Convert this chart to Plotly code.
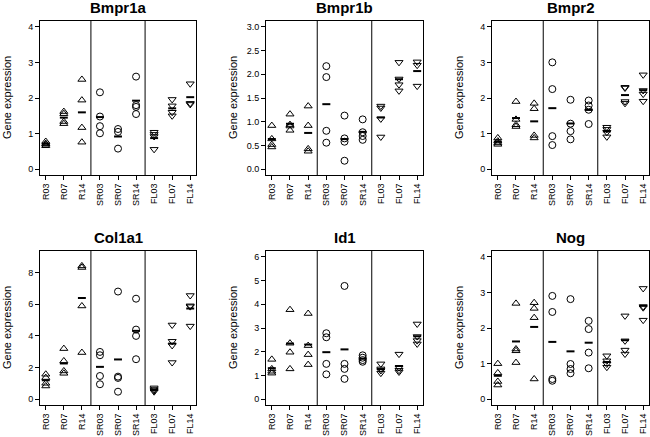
import numpy as np
import plotly.graph_objects as go

# ---------------- data ----------------
categories = ["R03", "R07", "R14", "SR03", "SR07", "SR14", "FL03", "FL07", "FL14"]
genes = ["Bmpr1a", "Bmpr1b", "Bmpr2", "Col1a1", "Id1", "Nog"]

bmpr1a = [[0.66, 0.70, 0.72, 0.78], [1.28, 1.34, 1.56, 1.62], [2.52, 1.94, 1.17, 0.76],
          [2.16, 1.48, 1.21, 1.01], [1.13, 1.05, 0.58], [2.60, 1.80, 1.75, 1.55],
          [1.04, 0.98, 0.92, 0.56], [1.96, 1.78, 1.60, 1.50], [2.40, 1.85, 1.82]]
bmpr1b = [[0.92, 0.64, 0.52, 0.47], [1.16, 0.94, 0.91, 0.82], [1.33, 0.92, 0.43, 0.38],
          [2.17, 1.94, 0.81, 0.56], [1.13, 0.65, 0.58, 0.18], [1.05, 0.78, 0.70, 0.62],
          [1.33, 1.29, 1.06, 0.68], [2.25, 1.90, 1.78, 1.65], [2.26, 2.19, 1.75]]
bmpr2 = [[0.88, 0.79, 0.74, 0.70], [1.90, 1.40, 1.25, 1.20], [1.85, 1.70, 0.95, 0.88],
         [3.00, 2.25, 0.93, 0.68], [1.95, 1.28, 1.07, 0.84], [1.93, 1.79, 1.67, 1.27],
         [1.18, 1.12, 1.04, 0.91], [2.30, 2.28, 1.90, 1.85], [2.65, 2.21, 2.11, 1.91]]
col1a1 = [[1.58, 1.37, 1.01, 0.84], [3.20, 2.42, 1.79, 1.64], [8.42, 8.32, 5.89, 2.95],
          [2.99, 2.78, 1.47, 0.95], [6.80, 1.43, 1.35, 0.48], [6.35, 4.40, 4.00, 2.53],
          [0.72, 0.62, 0.55, 0.48], [4.69, 3.66, 3.40, 2.32], [6.55, 5.90, 5.85, 4.62]]
id1 = [[1.68, 1.28, 1.18, 1.10], [3.77, 2.36, 1.98, 1.28], [3.61, 2.26, 1.88, 1.46],
       [2.78, 2.61, 1.49, 1.05], [4.77, 1.49, 1.28, 0.86], [1.85, 1.75, 1.65, 1.58],
       [1.49, 1.28, 1.21, 1.10], [1.90, 1.33, 1.22, 1.15], [3.17, 2.64, 2.47, 2.33]]
nog = [[1.00, 0.74, 0.50, 0.40], [2.69, 1.41, 1.36, 1.03], [2.71, 2.55, 2.29, 0.57],
       [2.90, 2.45, 0.57, 0.52], [2.81, 0.99, 0.85, 0.73], [2.20, 1.97, 1.31, 0.87],
       [1.22, 1.08, 0.99, 0.90], [2.34, 1.64, 1.38, 1.27], [3.11, 2.60, 2.57, 2.22]]

gene_values = [bmpr1a, bmpr1b, bmpr2, col1a1, id1, nog]
y_max = [4, 3, 4, 9, 6, 4]
y_ticks = [[0, 1, 2, 3, 4], [0, 0.5, 1.0, 1.5, 2.0, 2.5, 3.0], [0, 1, 2, 3, 4],
           [0, 2, 4, 6, 8], [0, 1, 2, 3, 4, 5, 6], [0, 1, 2, 3, 4]]
y_tickformat = ["d", ".1f", "d", "d", "d", "d"]
group_symbols = ["triangle-up-open"] * 3 + ["circle-open"] * 3 + ["triangle-down-open"] * 3

# ---------------- layout geometry ----------------
W, H = 650, 437
cols_px = [(40, 196), (266, 423), (492, 649)]
rows_px = [(21, 175), (251, 405)]
title_y_px = [7.5, 237]
FONT = "Liberation Sans, Arial, sans-serif"

fig = go.Figure()
layout = dict(width=W, height=H, margin=dict(l=0, r=0, t=0, b=0),
              paper_bgcolor="white", plot_bgcolor="white", showlegend=False,
              font=dict(family=FONT, color="black"))
annotations = []
shapes = []

for k, gene in enumerate(genes):
    r, c = divmod(k, 3)
    ax = "" if k == 0 else str(k + 1)
    xref, yref = "x" + ax, "y" + ax
    x0, x1 = cols_px[c]
    y0, y1 = rows_px[r]
    vals = gene_values[k]
    n = len(categories)
    xr = [1 - 0.04 * (n - 1), n + 0.04 * (n - 1)]
    yr = [-0.04 * y_max[k], y_max[k] * 1.04]

    layout["xaxis" + ax] = dict(
        domain=[x0 / W, x1 / W], anchor=yref, range=xr,
        tickmode="array", tickvals=list(range(1, n + 1)), ticktext=categories,
        tickangle=-90, ticks="outside", ticklen=4, tickwidth=1, tickcolor="black",
        showline=True, linecolor="black", linewidth=1, mirror=True,
        showgrid=False, zeroline=False, tickfont=dict(size=9, family=FONT))
    layout["yaxis" + ax] = dict(
        domain=[1 - y1 / H, 1 - y0 / H], anchor=xref, range=yr,
        tickmode="array", tickvals=y_ticks[k], tickformat=y_tickformat[k],
        ticks="outside", ticklen=4, tickwidth=1, tickcolor="black",
        showline=True, linecolor="black", linewidth=1, mirror=True,
        showgrid=False, zeroline=False, tickfont=dict(size=9, family=FONT))

    # points
    for i, v in enumerate(vals):
        fig.add_trace(go.Scatter(
            x=[i + 1] * len(v), y=v, mode="markers", xaxis=xref, yaxis=yref,
            marker=dict(symbol=group_symbols[i], size=7, color="black",
                        line=dict(width=1, color="black")),
            hoverinfo="skip"))

    # mean segments
    mx, my = [], []
    for i, v in enumerate(vals):
        m = float(np.mean(v))
        mx += [i + 1 - 0.22, i + 1 + 0.22, None]
        my += [m, m, None]
    fig.add_trace(go.Scatter(x=mx, y=my, mode="lines", xaxis=xref, yaxis=yref,
                             line=dict(color="black", width=2), hoverinfo="skip"))

    # group separators
    for sx in (3.5, 6.5):
        shapes.append(dict(type="line", xref=xref, yref=yref + " domain",
                           x0=sx, x1=sx, y0=0, y1=1,
                           line=dict(color="black", width=1)))

    # panel title
    annotations.append(dict(text="<b>%s</b>" % gene, xref="paper", yref="paper",
                            x=(x0 + x1) / 2 / W, y=1 - title_y_px[r] / H,
                            xanchor="center", yanchor="middle", showarrow=False,
                            font=dict(size=15, family=FONT, color="black")))
    # y-axis title
    annotations.append(dict(text="Gene expression", xref="paper", yref="paper",
                            x=(x0 - 33) / W, y=1 - (y0 + y1) / 2 / H,
                            xanchor="center", yanchor="middle", textangle=-90,
                            showarrow=False,
                            font=dict(size=11, family=FONT, color="black")))

layout["annotations"] = annotations
layout["shapes"] = shapes
fig.update_layout(**layout)
fig.write_html("out.html", config={"displayModeBar": False},
               post_script="document.body.style.margin='0';document.body.style.overflow='hidden';")
